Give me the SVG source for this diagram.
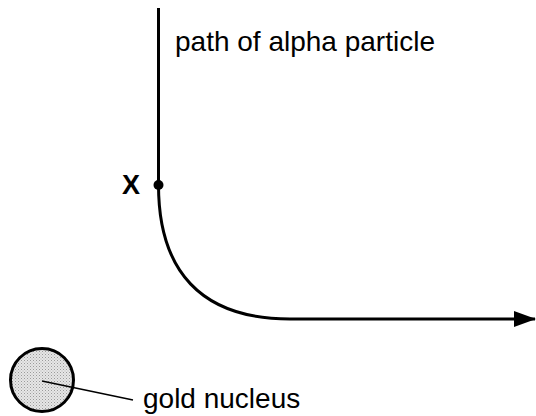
<svg xmlns="http://www.w3.org/2000/svg" width="536" height="416" viewBox="0 0 536 416">
<defs>
<style>
.t{font-family:"Liberation Sans",Arial,sans-serif;fill:#000}
.ln{fill:none;stroke:#000;stroke-width:3}
</style>
<pattern id="dots" width="3" height="3" patternUnits="userSpaceOnUse">
<rect width="3" height="3" fill="#e6e6e6"/>
<rect x="0" y="0" width="1" height="1" fill="#9a9a9a"/>
<rect x="1.5" y="1.5" width="1" height="1" fill="#b5b5b5"/>
</pattern>
<marker id="arr" markerUnits="userSpaceOnUse" markerWidth="22" markerHeight="18" refX="21" refY="9" orient="auto">
<path d="M0,1 L22,9 L0,17 Z" fill="#000"/>
</marker>
</defs>
<rect width="536" height="416" fill="#fff"/>
<g id="connectors">
<path class="ln" d="M158.5,8 L158.5,185 C158.5,270 200,319 290,319 L535,319" marker-end="url(#arr)"/>
</g>
<g id="label-path">
<text class="t" x="175" y="51" font-size="28">path of alpha particle</text>
</g>
<g id="point-x">
<circle cx="158.5" cy="185" r="5" fill="#000"/>
<text class="t" x="122" y="194" font-size="27" font-weight="bold">X</text>
</g>
<g id="gold-nucleus">
<circle cx="42" cy="380" r="31.5" fill="url(#dots)" stroke="#000" stroke-width="3"/>
<line x1="42" y1="381" x2="133" y2="400" stroke="#000" stroke-width="1.5"/>
<text class="t" x="143" y="408" font-size="28">gold nucleus</text>
</g>
</svg>
